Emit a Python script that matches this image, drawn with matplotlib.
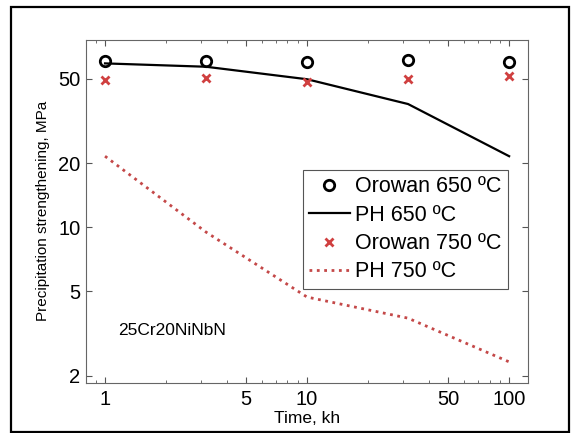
import matplotlib
matplotlib.use("Agg")
import matplotlib.pyplot as plt
import matplotlib.ticker as ticker
from matplotlib.patches import Rectangle

plt.rcParams['font.family'] = ['Liberation Sans', 'DejaVu Sans']

# data
time_kh = [1, 3.16, 10, 31.6, 100]
orowan_650 = [60.5, 60.5, 60.0, 61.0, 59.8]
ph_650 = [59.0, 56.9, 49.7, 38.0, 21.6]
orowan_750 = [49.3, 50.2, 48.4, 49.9, 51.5]
ph_750 = [21.6, 9.5, 4.7, 3.74, 2.33]

x_ticks = [1, 5, 10, 50, 100]
y_ticks = [2, 5, 10, 20, 50]

red = '#d04040'
red_dot = '#c44848'

fig = plt.figure(figsize=(5.71, 4.33), dpi=100)
ax = fig.add_axes([0.1506, 0.1162, 0.7741, 0.7914])

ax.plot(time_kh, orowan_650, 'o', mfc='none', mec='black', ms=7.5, mew=2,
        label='Orowan 650 ºC')
ax.plot(time_kh, ph_650, '-', color='black', lw=1.6, label='PH 650 ºC')
ax.plot(time_kh, orowan_750, 'x', color=red, ms=5.5, mew=2,
        label='Orowan 750 ºC')
ax.plot(time_kh, ph_750, ':', color=red_dot, lw=2, label='PH 750 ºC')

ax.set_xscale('log')
ax.set_yscale('log')
ax.set_xlim(0.805, 124)
ax.set_ylim(1.86, 76)

ax.set_xticks(x_ticks)
ax.xaxis.set_major_formatter(ticker.FixedFormatter([str(t) for t in x_ticks]))
ax.set_yticks(y_ticks)
ax.yaxis.set_major_formatter(ticker.FixedFormatter([str(t) for t in y_ticks]))
ax.yaxis.set_minor_locator(ticker.NullLocator())
ax.tick_params(which='both', direction='in', top=True, right=True,
               color='#555555', labelsize=14.5)
ax.tick_params(which='major', length=4, width=0.8)
ax.tick_params(which='minor', length=2, width=0.6)
ax.tick_params(axis='x', which='major', pad=5)
ax.tick_params(axis='y', which='major', pad=4)
for s in ax.spines.values():
    s.set_color('#666666')
    s.set_linewidth(0.8)

ax.set_xlabel('Time, kh', fontsize=12.5, labelpad=2)
ax.set_ylabel('Precipitation strengthening, MPa', fontsize=11, labelpad=6)

ax.text(0.072, 0.14, '25Cr20NiNbN', transform=ax.transAxes, fontsize=12.5)

leg = ax.legend(loc='upper left', bbox_to_anchor=(0.491, 0.6207), fontsize=15.5,
                fancybox=False, edgecolor='#555555', framealpha=1,
                handlelength=1.86, handletextpad=0.25, labelspacing=0.34,
                borderpad=0.3, borderaxespad=0)
leg.get_frame().set_linewidth(0.8)

# outer frame round the whole picture
fig.patches.append(Rectangle((11 / 571, 1 / 433), 558 / 571, 425 / 433,
                             transform=fig.transFigure, fill=False,
                             edgecolor='black', lw=1.6))

fig.savefig('out.png', dpi=100)
